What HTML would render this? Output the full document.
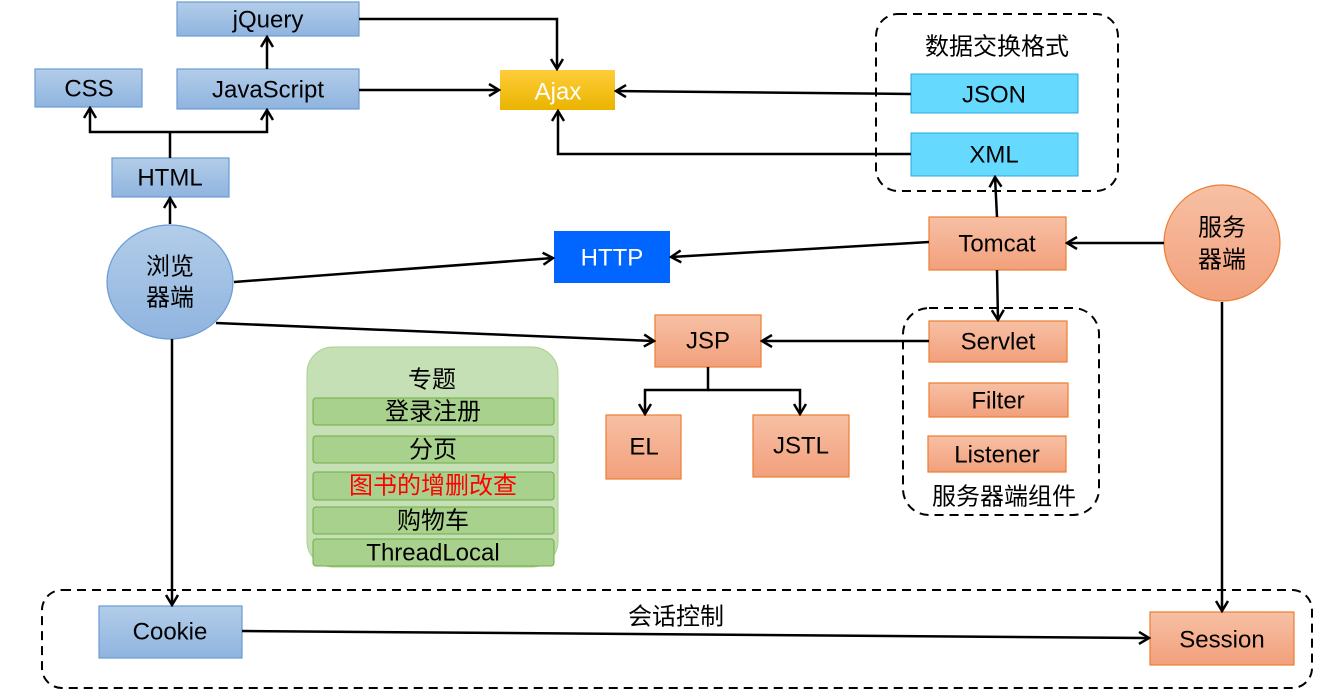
<!DOCTYPE html>
<html><head><meta charset="utf-8"><style>
body{margin:0;background:#fff}
svg text{font-family:"Liberation Sans","Noto Sans CJK SC",sans-serif;text-anchor:middle;dominant-baseline:central}
</style></head><body>
<svg width="1327" height="691" viewBox="0 0 1327 691" xmlns="http://www.w3.org/2000/svg">
<defs>
<marker id="a" markerWidth="14" markerHeight="14" refX="12" refY="7" orient="auto" markerUnits="userSpaceOnUse">
<polyline points="2,1 12,7 2,13" fill="none" stroke="#000" stroke-width="2.5"/></marker>
<linearGradient id="bl" x1="0" y1="0" x2="0" y2="1"><stop offset="0" stop-color="#b3cde9"/><stop offset="1" stop-color="#8fb4df"/></linearGradient>
<linearGradient id="or" x1="0" y1="0" x2="0" y2="1"><stop offset="0" stop-color="#f7c0a4"/><stop offset="1" stop-color="#f2a07c"/></linearGradient>
<linearGradient id="go" x1="0" y1="0" x2="0" y2="1"><stop offset="0" stop-color="#ffcd3a"/><stop offset="1" stop-color="#eab400"/></linearGradient>
</defs>
<g stroke="#6a9bd4" stroke-width="1.2" fill="url(#bl)">
<rect x="177" y="2" width="182" height="34"/>
<rect x="35" y="69" width="107" height="38"/>
<rect x="177" y="69" width="182" height="40"/>
<rect x="112" y="158" width="117" height="39"/>
<ellipse cx="170" cy="282" rx="63" ry="57"/>
<rect x="99" y="606" width="143" height="52"/>
</g>
<rect x="500" y="70" width="115" height="40" fill="url(#go)"/>
<rect x="554" y="231" width="116" height="52" fill="#0066ff"/>
<g stroke="#ed7d31" stroke-width="1.2" fill="url(#or)">
<rect x="929" y="217" width="137" height="53"/>
<circle cx="1222" cy="243" r="58"/>
<rect x="929" y="321" width="138" height="41"/>
<rect x="929" y="383" width="139" height="34"/>
<rect x="928" y="436" width="138" height="36"/>
<rect x="655" y="315" width="106" height="52"/>
<rect x="606" y="415" width="75" height="64"/>
<rect x="753" y="415" width="96" height="62"/>
<rect x="1150" y="612" width="144" height="53"/>
</g>
<g stroke="#2aa8d8" stroke-width="1" fill="#66d9ff">
<rect x="911" y="74" width="167" height="39"/>
<rect x="911" y="133" width="167" height="43"/>
</g>
<g fill="none" stroke="#000" stroke-width="2" stroke-dasharray="9,6">
<rect x="876" y="14" width="242" height="177" rx="22"/>
<rect x="903" y="308" width="196" height="207" rx="26"/>
<rect x="42" y="590" width="1270" height="98" rx="20"/>
</g>
<rect x="307" y="347" width="251" height="220" rx="26" fill="#c5e0b4" stroke="#a9d18e"/>
<g fill="#a9d18e" stroke="#70ad47" stroke-width="1">
<rect x="313" y="398" width="241" height="27" rx="3"/>
<rect x="313" y="436" width="241" height="27" rx="3"/>
<rect x="313" y="472" width="241" height="28" rx="3"/>
<rect x="313" y="507" width="241" height="27" rx="3"/>
<rect x="313" y="539" width="241" height="27" rx="3"/>
</g>
<g fill="none" stroke="#000" stroke-width="2.5">
<polyline points="359,19 557,19 557,69" marker-end="url(#a)"/>
<line x1="359" y1="90" x2="499" y2="90" marker-end="url(#a)"/>
<line x1="911" y1="94" x2="616" y2="91" marker-end="url(#a)"/>
<polyline points="911,154 558,154 558,111" marker-end="url(#a)"/>
<line x1="170" y1="158" x2="170" y2="132"/>
<polyline points="170,132 90,132 90,108" marker-end="url(#a)"/>
<polyline points="170,132 267,132 267,110" marker-end="url(#a)"/>
<line x1="267" y1="69" x2="267" y2="37" marker-end="url(#a)"/>
<line x1="170" y1="224" x2="170" y2="198" marker-end="url(#a)"/>
<line x1="234" y1="282" x2="553" y2="258" marker-end="url(#a)"/>
<line x1="929" y1="242" x2="671" y2="257" marker-end="url(#a)"/>
<line x1="997" y1="217" x2="995" y2="177" marker-end="url(#a)"/>
<line x1="1164" y1="243" x2="1067" y2="243" marker-end="url(#a)"/>
<line x1="997" y1="270" x2="998" y2="320" marker-end="url(#a)"/>
<line x1="929" y1="341" x2="762" y2="341" marker-end="url(#a)"/>
<line x1="216" y1="323" x2="654" y2="341" marker-end="url(#a)"/>
<polyline points="708,367 708,390 645,390 645,414" marker-end="url(#a)"/>
<polyline points="708,390 800,390 800,414" marker-end="url(#a)"/>
<line x1="172" y1="339" x2="172" y2="605" marker-end="url(#a)"/>
<line x1="1222" y1="302" x2="1222" y2="611" marker-end="url(#a)"/>
<line x1="242" y1="631" x2="1149" y2="638" marker-end="url(#a)"/>
</g>
<g font-size="24" fill="#000">
<text x="268" y="20">jQuery</text>
<text x="89" y="89">CSS</text>
<text x="268" y="90">JavaScript</text>
<text x="170" y="178">HTML</text>
<text x="170" y="267">浏览</text>
<text x="170" y="298">器端</text>
<text x="558" y="92" fill="#fff">Ajax</text>
<text x="612" y="258" fill="#fff">HTTP</text>
<text x="997" y="47">数据交换格式</text>
<text x="994" y="95">JSON</text>
<text x="994" y="155">XML</text>
<text x="997" y="244">Tomcat</text>
<text x="1222" y="228">服务</text>
<text x="1222" y="260">器端</text>
<text x="998" y="342">Servlet</text>
<text x="998" y="401">Filter</text>
<text x="997" y="455">Listener</text>
<text x="1004" y="497">服务器端组件</text>
<text x="708" y="341">JSP</text>
<text x="644" y="447">EL</text>
<text x="801" y="446">JSTL</text>
<text x="432" y="380">专题</text>
<text x="433" y="412">登录注册</text>
<text x="433" y="450">分页</text>
<text x="433" y="486" fill="#ff0000">图书的增删改查</text>
<text x="433" y="521">购物车</text>
<text x="433" y="553">ThreadLocal</text>
<text x="676" y="617">会话控制</text>
<text x="170" y="632">Cookie</text>
<text x="1222" y="640">Session</text>
</g>
</svg>
</body></html>
